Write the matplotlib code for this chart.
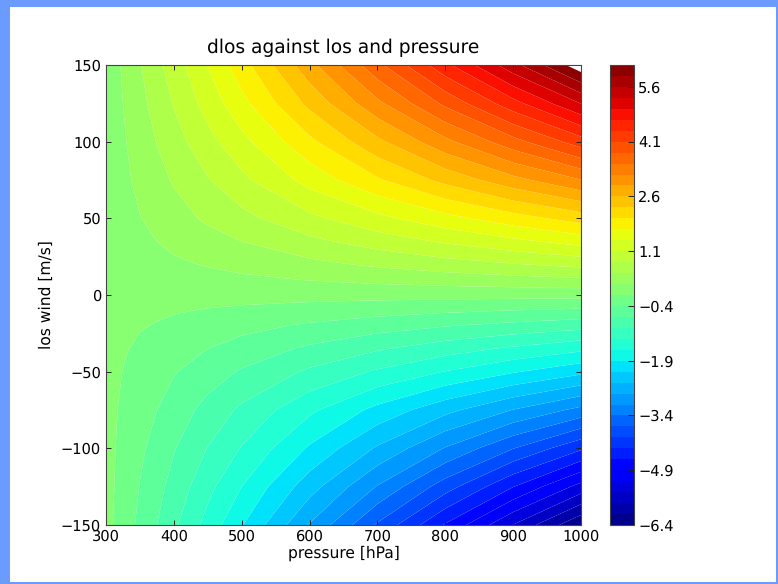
import numpy as np
import matplotlib
matplotlib.use('Agg')
import matplotlib.pyplot as plt
from matplotlib.patches import Rectangle

plt.rcParams['text.hinting'] = 'no_hinting'

# values
pressure = [300, 315, 330, 350, 375, 400, 450, 500, 600, 700, 800, 900, 1000]
los_wind = [-150, -125, -100, -75, -50, -35, -20, -10, 0, 10, 20, 35, 50, 75, 100, 125, 150]

dlos_m150 = [-0.01, -0.14, -0.28, -0.47, -0.70, -0.94, -1.41, -1.88, -2.82, -3.74, -4.63, -5.51, -6.38]
dlos_m125 = [-0.01, -0.12, -0.245, -0.41, -0.60, -0.81, -1.21, -1.60, -2.37, -3.12, -3.86, -4.59, -5.31]
dlos_m100 = [-0.01, -0.105, -0.21, -0.35, -0.50, -0.68, -1.01, -1.32, -1.94, -2.54, -3.12, -3.69, -4.25]
dlos_m75 = [-0.01, -0.088, -0.175, -0.29, -0.40, -0.54, -0.80, -1.06, -1.54, -1.99, -2.41, -2.81, -3.19]
dlos_m50 = [-0.01, -0.063, -0.127, -0.213, -0.285, -0.38, -0.56, -0.73, -1.05, -1.34, -1.61, -1.87, -2.12]
dlos_m35 = [-0.01, -0.044, -0.088, -0.148, -0.204, -0.274, -0.40, -0.524, -0.754, -0.964, -1.164, -1.349, -1.53]
dlos_m20 = [0.00, -0.024, -0.048, -0.081, -0.117, -0.157, -0.233, -0.307, -0.442, -0.567, -0.682, -0.787, -0.89]
dlos_m10 = [0.00, -0.012, -0.024, -0.041, -0.058, -0.078, -0.115, -0.15, -0.22, -0.285, -0.345, -0.40, -0.45]
dlos_0 = [0.00, 0.00, 0.00, 0.00, 0.00, 0.00, 0.00, 0.00, 0.00, 0.00, 0.00, 0.00, 0.00]
dlos_p10 = [0.00, 0.011, 0.022, 0.038, 0.058, 0.076, 0.11, 0.144, 0.212, 0.277, 0.337, 0.395, 0.45]
dlos_p20 = [0.00, 0.022, 0.045, 0.077, 0.115, 0.152, 0.22, 0.287, 0.422, 0.552, 0.672, 0.782, 0.89]
dlos_p35 = [0.00, 0.04, 0.08, 0.134, 0.20, 0.27, 0.385, 0.50, 0.73, 0.94, 1.14, 1.33, 1.52]
dlos_p50 = [0.00, 0.056, 0.112, 0.19, 0.29, 0.38, 0.55, 0.71, 1.03, 1.32, 1.60, 1.87, 2.13]
dlos_p75 = [0.00, 0.08, 0.16, 0.27, 0.40, 0.53, 0.78, 1.03, 1.51, 1.96, 2.39, 2.80, 3.19]
dlos_p100 = [0.00, 0.10, 0.20, 0.34, 0.51, 0.68, 1.00, 1.31, 1.93, 2.53, 3.12, 3.69, 4.26]
dlos_p125 = [0.00, 0.12, 0.24, 0.41, 0.62, 0.82, 1.22, 1.61, 2.38, 3.13, 3.87, 4.59, 5.31]
dlos_p150 = [0.00, 0.14, 0.28, 0.48, 0.72, 0.95, 1.41, 1.87, 2.80, 3.72, 4.62, 5.50, 6.40]

dlos = np.array([dlos_m150, dlos_m125, dlos_m100, dlos_m75, dlos_m50, dlos_m35, dlos_m20, dlos_m10, dlos_0,
                 dlos_p10, dlos_p20, dlos_p35, dlos_p50, dlos_p75, dlos_p100, dlos_p125, dlos_p150])

levels = np.arange(-6.4, 6.25, 0.3)
cbar_ticks = [-6.4, -4.9, -3.4, -1.9, -0.4, 1.1, 2.6, 4.1, 5.6]
x_ticks = [300, 400, 500, 600, 700, 800, 900, 1000]
y_ticks = [-150, -100, -50, 0, 50, 100, 150]

W, H = 778., 584.
fs = 10.5

fig = plt.figure(figsize=(7.78, 5.84), dpi=100, facecolor='#6c9bff')
# white page inside the blue frame
fig.add_artist(Rectangle((10/W, 1-581.5/H), 766/W, 574.5/H, transform=fig.transFigure,
                         facecolor='white', edgecolor='none', zorder=-1))

ax = fig.add_axes([106/W, 1-525/H, 475/W, 460/H])
cf = ax.contourf(pressure, los_wind, dlos, levels=levels, cmap='jet', antialiased=True)
ax.set_xlim(300, 1000)
ax.set_ylim(-150, 150)
ax.set_xticks(x_ticks)
ax.set_yticks(y_ticks)
ax.tick_params(direction='in', top=True, right=True, length=3.6, width=0.7, labelsize=fs, pad=3.5, color='#222222')
ax.set_xlabel('pressure [hPa]', fontsize=11.2, labelpad=1)
ax.set_ylabel('los wind [m/s]', fontsize=11.2, labelpad=5)
ax.set_title('dlos against los and pressure', fontsize=13.4, pad=8.5)
for s in ax.spines.values():
    s.set_linewidth(0.8)
    s.set_color('#444444')

cax = fig.add_axes([610/W, 1-525/H, 24/W, 460/H])
cb = fig.colorbar(cf, cax=cax, ticks=cbar_ticks)
cb.ax.set_yticklabels(['\u22126.4', '\u22124.9', '\u22123.4', '\u22121.9', '\u22120.4', '1.1', '2.6', '4.1', '5.6'])
cb.ax.tick_params(direction='in', length=4, width=0.7, labelsize=fs, pad=3, color='#222222')
cb.outline.set_linewidth(0.8)
cb.outline.set_edgecolor('#444444')

fig.savefig('out.png', dpi=100)
